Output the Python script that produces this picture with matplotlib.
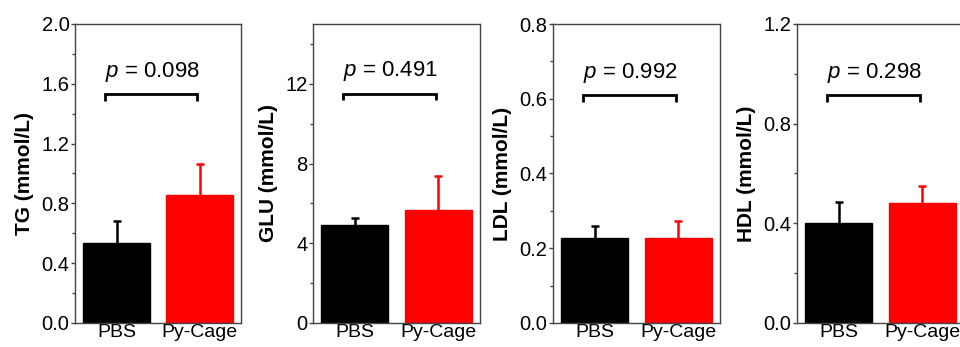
import matplotlib.pyplot as plt
from matplotlib.ticker import MultipleLocator

plt.rcParams['font.family'] = ['Liberation Sans', 'DejaVu Sans']
plt.rcParams['mathtext.fontset'] = 'custom'
plt.rcParams['mathtext.it'] = 'Liberation Sans:italic'
plt.rcParams['mathtext.rm'] = 'Liberation Sans'

groups = ['PBS', 'Py-Cage']
colors = ['#000000', '#ff0000']

labels = ['TG (mmol/L)', 'GLU (mmol/L)', 'LDL (mmol/L)', 'HDL (mmol/L)']
means = [[0.535, 0.856], [4.9, 5.65], [0.227, 0.227], [0.40, 0.48]]
errors = [[0.145, 0.21], [0.35, 1.7], [0.033, 0.046], [0.086, 0.07]]
p_values = ['0.098', '0.491', '0.992', '0.298']
y_max = [2.0, 15, 0.8, 1.2]
y_major = [0.4, 4, 0.2, 0.4]
bracket_y = [1.53, 11.5, 0.61, 0.915]

# axes boxes in pixels: left, right
boxes = [(75, 241), (313, 480), (553, 720), (797, 964)]
W, H = 960, 347
top, bottom = 24, 323

fig = plt.figure(figsize=(W / 100, H / 100), dpi=100)

for i in range(4):
    l, r = boxes[i]
    ax = fig.add_axes([l / W, (H - bottom) / H, (r - l) / W, (bottom - top) / H])
    x = [1, 2]
    for j in range(2):
        ax.bar(x[j], means[i][j], width=0.8, color=colors[j], edgecolor=colors[j], zorder=2)
        eb = ax.errorbar(x[j], means[i][j], yerr=[[0], [errors[i][j]]], fmt='none',
                         ecolor=colors[j], elinewidth=1.8, capsize=3, capthick=1.8, zorder=3)
        # only the upper cap is shown
        eb[1][0].set_visible(False)
    ax.set_xlim(0.5, 2.5)
    ax.set_ylim(0, y_max[i])
    ax.set_xticks(x)
    ax.set_xticklabels(groups, fontsize=14)
    ax.tick_params(axis='x', length=0, pad=1)
    ax.yaxis.set_major_locator(MultipleLocator(y_major[i]))
    ax.yaxis.set_minor_locator(MultipleLocator(y_major[i] / 2))
    if i == 1:
        ax.yaxis.set_major_formatter(plt.FuncFormatter(lambda v, pos: '%d' % v))
    else:
        ax.yaxis.set_major_formatter(plt.FuncFormatter(lambda v, pos: '%.1f' % v))
    ax.tick_params(axis='y', which='major', direction='out', length=3, width=1,
                   labelsize=14.5, pad=1, color='#444444')
    ax.tick_params(axis='y', which='minor', direction='out', length=2, width=1, color='#444444')
    for s in ax.spines.values():
        s.set_color('#444444')
        s.set_linewidth(1)
    ax.set_ylabel(labels[i], fontsize=15, fontweight='bold', labelpad=5)

    # significance bracket
    by = bracket_y[i]
    leg = y_max[i] * 0.022
    ax.plot([0.86, 0.86, 1.97, 1.97], [by - leg, by, by, by - leg], color='black',
            lw=2, solid_capstyle='butt', solid_joinstyle='miter', clip_on=False)
    ax.text(1.43, by + y_max[i] * 0.035, r'$\mathit{p}$' + ' = ' + p_values[i],
            ha='center', va='bottom', fontsize=16)

fig.savefig('out.png', dpi=100)
